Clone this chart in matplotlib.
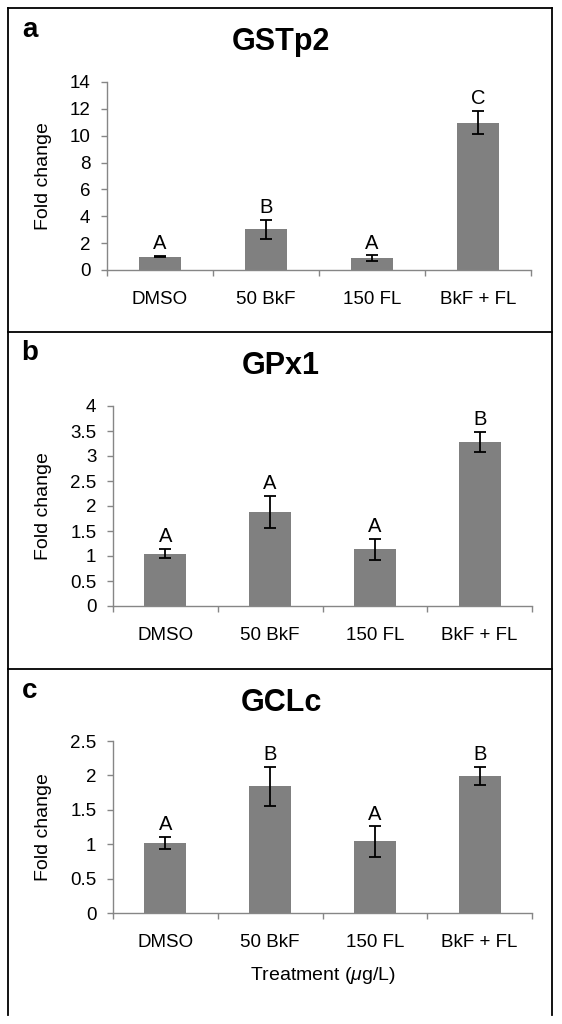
import numpy as np
import matplotlib
matplotlib.use('Agg')
import matplotlib.pyplot as plt
from matplotlib.lines import Line2D
from matplotlib.ticker import MultipleLocator, FuncFormatter

plt.rcParams['font.family'] = ['Liberation Sans', 'DejaVu Sans']
plt.rcParams['mathtext.fontset'] = 'custom'
plt.rcParams['mathtext.it'] = 'Liberation Sans:italic'
plt.rcParams['mathtext.rm'] = 'Liberation Sans'

# data
treatments = ['DMSO', '50 BkF', '150 FL', 'BkF + FL']

gstp2_mean = [1.0, 3.02, 0.89, 10.98]
gstp2_err = [0.05, 0.74, 0.2, 0.86]
gstp2_sig = ['A', 'B', 'A', 'C']

gpx1_mean = [1.05, 1.89, 1.14, 3.28]
gpx1_err = [0.09, 0.32, 0.21, 0.2]
gpx1_sig = ['A', 'A', 'A', 'B']

gclc_mean = [1.02, 1.84, 1.04, 1.99]
gclc_err = [0.09, 0.28, 0.22, 0.13]
gclc_sig = ['A', 'B', 'A', 'B']

panels = [
    ('a', 'GSTp2', gstp2_mean, gstp2_err, gstp2_sig, 14, 2),
    ('b', 'GPx1', gpx1_mean, gpx1_err, gpx1_sig, 4, 0.5),
    ('c', 'GCLc', gclc_mean, gclc_err, gclc_sig, 2.5, 0.5),
]

W, H = 562, 1024
fig = plt.figure(figsize=(W / 100, H / 100), dpi=100)

# axes boxes in pixels: left, right, top, bottom
ax_px = [(107, 531, 82, 270), (113, 532, 406, 606), (113, 532, 741, 913)]
letter_y = [30, 353, 691]
title_y = [42, 366, 703]

spine_col = '#868686'

for i, (lab, name, mean, err, sig, ymax, step) in enumerate(panels):
    l, r, t, b = ax_px[i]
    ax = fig.add_axes([l / W, 1 - b / H, (r - l) / W, (b - t) / H])
    x = np.arange(len(treatments))
    ax.bar(x, mean, width=0.4, color='#808080', zorder=2)
    ax.errorbar(x, mean, yerr=err, fmt='none', ecolor='black',
                elinewidth=1.3, capsize=4.3, capthick=1.3, zorder=3)
    for xi, m, e, s in zip(x, mean, err, sig):
        ax.annotate(s, (xi, m + e), xytext=(0, 2), textcoords='offset points',
                    ha='center', va='bottom', fontsize=14.5)
    ax.set_xlim(-0.5, len(treatments) - 0.5)
    ax.set_ylim(0, ymax)
    ax.yaxis.set_major_locator(MultipleLocator(step))
    ax.yaxis.set_major_formatter(FuncFormatter(lambda v, p: '{:g}'.format(v)))
    ax.set_xticks(x)
    ax.set_xticklabels(treatments)
    ax.set_xticks(np.arange(-0.5, len(treatments)), minor=True)
    ax.tick_params(axis='x', which='major', length=0, pad=15, labelsize=13.5)
    ax.tick_params(axis='x', which='minor', length=4, width=1, color=spine_col,
                   direction='out')
    ax.tick_params(axis='y', length=4, width=1, color=spine_col,
                   direction='out', pad=8, labelsize=13.5)
    for sp in ['top', 'right']:
        ax.spines[sp].set_visible(False)
    for sp in ['left', 'bottom']:
        ax.spines[sp].set_color(spine_col)
        ax.spines[sp].set_linewidth(1)
    ax.set_ylabel('Fold change', fontsize=14, va='center')
    ax.yaxis.set_label_coords((44 - l) / (r - l), 0.5)
    if i == 2:
        ax.set_xlabel('Treatment ($\\mu$g/L)', fontsize=14, labelpad=10)

    fig.text(30 / W, 1 - letter_y[i] / H, lab, fontsize=20, fontweight='bold',
             ha='center', va='center')
    fig.text(281 / W, 1 - title_y[i] / H, name, fontsize=22, fontweight='bold',
             ha='center', va='center')

# panel frames
lw = 1.3
x0, x1 = 7.5 / W, 552 / W
for yy in [7.5, 332, 669]:
    fig.add_artist(Line2D([x0, x1], [1 - yy / H, 1 - yy / H], color='black', lw=lw))
for xx in [x0, x1]:
    fig.add_artist(Line2D([xx, xx], [1 - 7.5 / H, 1 - 1015 / H], color='black', lw=lw))

fig.savefig('out.png', dpi=100)
